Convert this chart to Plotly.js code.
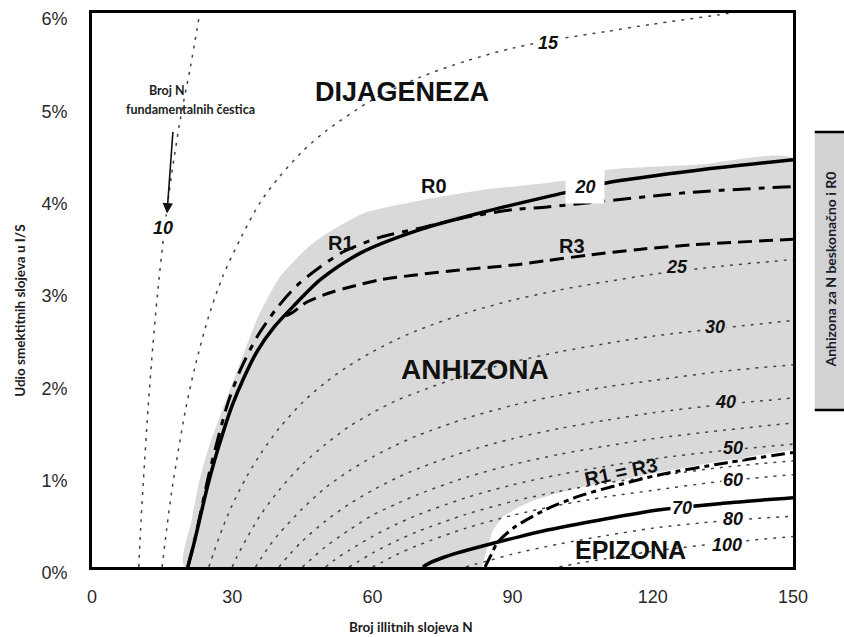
<!DOCTYPE html>
<html>
<head>
<meta charset="utf-8">
<script src="https://cdn.plot.ly/plotly-3.0.1.min.js"></script>
<style>html,body{margin:0;padding:0;background:#fff;}</style>
</head>
<body>
<div id="chart" style="width:844px;height:637px;"></div>
<script>
// ---- axis ticks ----
const xTicks = [0, 30, 60, 90, 120, 150];
const yTicks = [0, 1, 2, 3, 4, 5, 6];

// ---- contours of N fundamental particles (x = illite layers N, y = smectite %) ----
const c10N = [10, 10.5, 11, 12, 13, 14, 15.5, 17, 19, 21, 23];
const c10S = [0, 0.5, 0.94, 1.72, 2.38, 2.95, 3.66, 4.24, 4.88, 5.4, 5.98];
const c15N = [15, 16, 17, 18, 20, 22, 25, 28, 32, 36, 40, 45, 50, 60, 70, 80, 90, 100, 110, 120, 134, 138];
const c15S = [0, 0.42, 0.80, 1.12, 1.70, 2.16, 2.72, 3.15, 3.58, 3.95, 4.22, 4.50, 4.72, 5.06, 5.30, 5.48, 5.62, 5.72, 5.80, 5.88, 5.98, 6.01];
const c25N = [25, 26, 28, 30, 33, 36, 40, 45, 50, 55, 60, 65, 70, 80, 90, 100, 110, 120, 135, 150];
const c25S = [0, 0.15, 0.43, 0.67, 0.97, 1.22, 1.50, 1.78, 2.00, 2.18, 2.33, 2.46, 2.57, 2.75, 2.89, 3.00, 3.09, 3.17, 3.26, 3.33];
const c30N = [30, 31, 33, 36, 40, 45, 50, 55, 60, 65, 70, 80, 90, 100, 110, 120, 135, 150];
const c30S = [0, 0.11, 0.30, 0.56, 0.83, 1.11, 1.33, 1.52, 1.67, 1.80, 1.90, 2.08, 2.22, 2.33, 2.42, 2.50, 2.59, 2.67];
const c35N = [35, 36, 38, 40, 45, 50, 55, 60, 65, 70, 80, 90, 100, 110, 120, 135, 150];
const c35S = [0, 0.08, 0.23, 0.36, 0.63, 0.86, 1.04, 1.19, 1.32, 1.43, 1.61, 1.75, 1.86, 1.95, 2.02, 2.12, 2.19];
const c40N = [40, 42, 45, 50, 55, 60, 65, 70, 80, 90, 100, 110, 120, 135, 150];
const c40S = [0, 0.12, 0.28, 0.50, 0.68, 0.83, 0.96, 1.07, 1.25, 1.39, 1.50, 1.59, 1.67, 1.76, 1.83];
const c45N = [45, 47, 50, 55, 60, 65, 70, 80, 90, 100, 110, 120, 135, 150];
const c45S = [0, 0.09, 0.22, 0.40, 0.56, 0.68, 0.79, 0.97, 1.11, 1.22, 1.31, 1.39, 1.48, 1.56];
const c50N = [50, 52, 55, 60, 65, 70, 80, 90, 100, 110, 120, 135, 150];
const c50S = [0, 0.08, 0.18, 0.33, 0.46, 0.57, 0.75, 0.89, 1.00, 1.09, 1.17, 1.26, 1.33];
const c55N = [55, 57, 60, 65, 70, 80, 90, 100, 110, 120, 135, 150];
const c55S = [0, 0.06, 0.15, 0.28, 0.39, 0.57, 0.71, 0.82, 0.91, 0.98, 1.08, 1.15];
const c60N = [60, 62, 65, 70, 80, 90, 100, 110, 120, 135, 150];
const c60S = [0, 0.05, 0.13, 0.24, 0.42, 0.56, 0.67, 0.76, 0.83, 0.93, 1.00];
const c80N = [80, 82, 85, 90, 100, 110, 120, 135, 150];
const c80S = [0, 0.03, 0.07, 0.14, 0.25, 0.34, 0.42, 0.50, 0.55];
const c100N = [100, 103, 110, 120, 135, 150];
const c100S = [0, 0.03, 0.09, 0.17, 0.26, 0.33];
const c70N = [70.8, 72.5, 75, 78, 83, 90, 97.4, 108.7, 121.5, 135, 150];
const c70S = [0, 0.05, 0.10, 0.15, 0.22, 0.31, 0.40, 0.51, 0.62, 0.69, 0.75];

// ---- ordering boundaries ----
const r0N = [20.5, 21.8, 23.2, 24.6, 26.2, 28, 30, 32.5, 35.5, 39, 43, 48.8, 57.4, 70.5, 85, 101.6, 110, 130, 150];
const r0S = [0, 0.25, 0.55, 0.85, 1.15, 1.45, 1.75, 2.05, 2.35, 2.60, 2.82, 3.11, 3.40, 3.66, 3.86, 4.06, 4.16, 4.30, 4.41];
const r1N = [20.5, 22, 23.5, 25, 27, 29.1, 31.7, 35.3, 39.5, 43.9, 48.8, 54, 61.6, 70.2, 80.2, 90.1, 97.4, 107.2, 128.6, 150];
const r1S = [0, 0.3, 0.65, 1.0, 1.4, 1.78, 2.13, 2.49, 2.80, 3.05, 3.25, 3.42, 3.57, 3.67, 3.79, 3.87, 3.90, 3.95, 4.06, 4.12];
const r3N = [41.5, 43, 46, 50.9, 55, 61.6, 68.7, 79.4, 90, 97.4, 106.6, 117, 128.6, 150];
const r3S = [2.72, 2.76, 2.87, 2.97, 3.03, 3.11, 3.16, 3.22, 3.27, 3.32, 3.38, 3.44, 3.49, 3.55];
const r13N = [84.1, 85.5, 86.7, 90.1, 97.4, 104.4, 112, 121.5, 135.9, 150];
const r13S = [0, 0.14, 0.26, 0.42, 0.63, 0.77, 0.88, 1.00, 1.13, 1.24];

// ---- zone edges ----
const anchiEdgeN = [19.8, 21.3, 23.0, 25.0, 27.5, 31.7, 35.3, 40.2, 47.3, 58, 70.2, 83, 101.6, 110, 130, 150];
const anchiEdgeS = [0, 0.5, 0.94, 1.3, 1.65, 2.21, 2.68, 3.14, 3.51, 3.83, 3.97, 4.08, 4.19, 4.30, 4.36, 4.42];
const epiEdgeN = [83.5, 84.5, 85.8, 88, 91, 94.4, 99, 104.4, 113, 121.5, 135.9, 150];
const epiEdgeS = [0, 0.2, 0.40, 0.55, 0.64, 0.72, 0.79, 0.86, 0.94, 1.03, 1.16, 1.27];

const GREY = '#d9d9d9';
const traces = [];

// grey anchizone
traces.push({
  x: anchiEdgeN.concat([150, 150, 150, 90, anchiEdgeN[0]]),
  y: anchiEdgeS.concat([3, 1.5, 0, 0, 0]),
  mode: 'lines', fill: 'toself', fillcolor: GREY,
  line: {width: 0, color: GREY, shape: 'spline', smoothing: 0.6}, hoverinfo: 'skip'
});
// white epizone
traces.push({
  x: epiEdgeN.concat([150, epiEdgeN[0]]),
  y: epiEdgeS.concat([0, 0]),
  mode: 'lines', fill: 'toself', fillcolor: '#ffffff',
  line: {width: 0, color: '#ffffff'}, hoverinfo: 'skip'
});

const dotted = [[c10N, c10S], [c15N, c15S], [c25N, c25S], [c30N, c30S], [c35N, c35S],
  [c40N, c40S], [c45N, c45S], [c50N, c50S], [c55N, c55S], [c60N, c60S], [c80N, c80S], [c100N, c100S]];
dotted.forEach(function (c) {
  traces.push({
    x: c[0], y: c[1], mode: 'lines', hoverinfo: 'skip',
    line: {color: '#444444', width: 1.5, dash: '3px,6px', shape: 'spline', smoothing: 0.8}
  });
});

traces.push({x: c70N, y: c70S, mode: 'lines', hoverinfo: 'skip',
  line: {color: '#000', width: 3.5, shape: 'spline', smoothing: 0.8}});
traces.push({x: r3N, y: r3S, mode: 'lines', hoverinfo: 'skip',
  line: {color: '#000', width: 3, dash: '14px,7px', shape: 'spline', smoothing: 0.8}});
traces.push({x: r1N, y: r1S, mode: 'lines', hoverinfo: 'skip',
  line: {color: '#000', width: 3, dash: '18px,8px,6px,8px', shape: 'spline', smoothing: 0.8}});
traces.push({x: r13N, y: r13S, mode: 'lines', hoverinfo: 'skip',
  line: {color: '#000', width: 3, dash: '14px,5px,5px,5px', shape: 'spline', smoothing: 0.8}});
traces.push({x: r0N, y: r0S, mode: 'lines', hoverinfo: 'skip',
  line: {color: '#000', width: 3.5, shape: 'spline', smoothing: 0.8}});

const numFont = {family: 'Liberation Sans, Arial', size: 18, color: '#111', weight: 'bold', style: 'italic'};
function numLabel(t, x, y, bg, extra) {
  const a = {text: t, x: x, y: y, xref: 'x', yref: 'y', showarrow: false, font: numFont,
    bgcolor: bg, borderpad: 1, xanchor: 'center', yanchor: 'middle'};
  if (extra) Object.assign(a, extra);
  return a;
}
const rFont = {family: 'Liberation Sans, Arial', size: 20, color: '#111', weight: 'bold'};
const zoneFont = function (s) { return {family: 'Liberation Sans, Arial', size: s, color: '#111', weight: 'bold'}; };
const smallFont = {family: 'Lato, Liberation Sans', size: 12.5, color: '#222', weight: 'bold'};
function txt(t, x, y, font, extra) {
  const a = {text: t, x: x, y: y, xref: 'x', yref: 'y', showarrow: false, font: font,
    xanchor: 'center', yanchor: 'middle'};
  if (extra) Object.assign(a, extra);
  return a;
}

const annotations = [
  numLabel('10', 15.2, 3.67, '#ffffff'),
  numLabel('15', 97.6, 5.68, '#ffffff'),
  numLabel('20', 105.5, 4.12, '#ffffff', {width: 36, height: 30}),
  numLabel('25', 125.2, 3.25, GREY),
  numLabel('30', 133.3, 2.60, GREY),
  numLabel('40', 135.5, 1.79, GREY),
  numLabel('50', 137.2, 1.29, GREY),
  numLabel('60', 137.2, 0.94, '#ffffff'),
  numLabel('70', 126.3, 0.64, '#ffffff'),
  numLabel('80', 137.2, 0.52, '#ffffff'),
  numLabel('100', 135.9, 0.24, '#ffffff'),
  txt('R0', 73.2, 4.13, rFont),
  txt('R1', 53.3, 3.51, rFont),
  txt('R3', 102.7, 3.48, rFont),
  txt('R1 = R3', 113.2, 1.03, rFont, {textangle: -12}),
  txt('DIJAGENEZA', 66.3, 5.14, zoneFont(27)),
  txt('ANHIZONA', 82, 2.14, zoneFont(28)),
  txt('EPIZONA', 115.3, 0.18, zoneFont(25)),
  txt('Broj N', 16.05, 5.16, smallFont),
  txt('fundamentalnih čestica', 21.0, 4.96, smallFont),
  {text: '', x: 16.05, y: 3.83, xref: 'x', yref: 'y', showarrow: true, ax: 6, ay: -83,
    arrowhead: 2, arrowsize: 1.3, arrowwidth: 1.6, arrowcolor: '#111', standoff: 0},
  {text: 'Broj illitnih slojeva N', x: 0.455, y: -0.108, xref: 'paper', yref: 'paper', showarrow: false,
    xanchor: 'center', yanchor: 'middle',
    font: {family: 'Lato, Liberation Sans', size: 13.5, color: '#1a1a1a', weight: 'bold'}},
  {text: 'Udio smektitnih slojeva u I/S', x: -0.103, y: 0.462, xref: 'paper', yref: 'paper', showarrow: false,
    xanchor: 'center', yanchor: 'middle', textangle: -90,
    font: {family: 'Lato, Liberation Sans', size: 13.5, color: '#1a1a1a', weight: 'bold'}},
  {text: 'Anhizona za N beskonačno i R0', x: 1.0528, y: 0.537, xref: 'paper', yref: 'paper', showarrow: false,
    xanchor: 'center', yanchor: 'middle', textangle: -90,
    font: {family: 'Lato, Liberation Sans', size: 14, color: '#1a1a2a', weight: 'bold'}}
];

const shapes = [
  {type: 'rect', xref: 'paper', yref: 'paper', x0: 1.031, x1: 1.12, y0: 0.2834, y1: 0.785,
    fillcolor: '#d2d2d2', line: {width: 0}, layer: 'below'},
  {type: 'line', xref: 'paper', yref: 'paper', x0: 1.031, x1: 1.12, y0: 0.785, y1: 0.785,
    line: {color: '#000', width: 2.5}},
  {type: 'line', xref: 'paper', yref: 'paper', x0: 1.031, x1: 1.12, y0: 0.2834, y1: 0.2834,
    line: {color: '#000', width: 2.5}}
];

const tickFont = {family: 'Liberation Sans, Arial', size: 18, color: '#2a2a2a'};
const layout = {
  width: 844, height: 637,
  margin: {l: 92, r: 51, t: 13, b: 70},
  paper_bgcolor: '#ffffff', plot_bgcolor: '#ffffff',
  showlegend: false,
  xaxis: {range: [0, 150], tickvals: xTicks, ticktext: xTicks.map(String), showgrid: false, zeroline: false,
    showline: true, linecolor: '#000', linewidth: 3, mirror: true, ticks: '', ticklabelstandoff: 11,
    tickfont: tickFont, fixedrange: true, ticklabeloverflow: 'allow'},
  yaxis: {range: [0, 6.0005], tickvals: yTicks, ticktext: yTicks.map(function (v) { return v + '%'; }),
    showgrid: false, zeroline: false, showline: true, linecolor: '#000', linewidth: 3, mirror: true,
    ticks: '', ticklabelstandoff: 18, ticklabelshift: 6, tickfont: tickFont, fixedrange: true,
    ticklabeloverflow: 'allow'},
  annotations: annotations,
  shapes: shapes
};

Plotly.newPlot('chart', traces, layout, {staticPlot: true, displayModeBar: false});
</script>
</body>
</html>
